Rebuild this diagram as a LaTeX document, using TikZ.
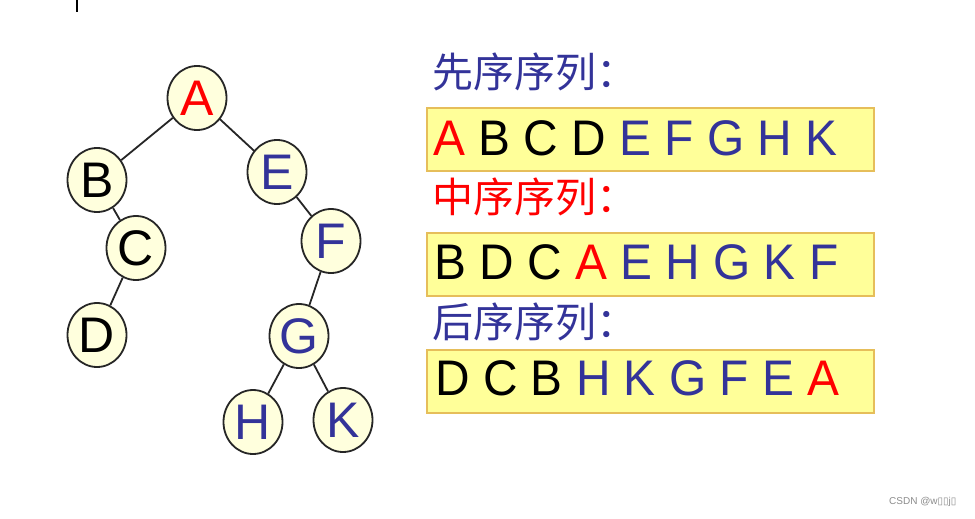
\documentclass[tikz,border=0pt]{standalone}
\usepackage{fontspec}
\setmainfont{Liberation Sans}
\newfontfamily\seqfont[FakeStretch=0.957]{Liberation Sans}
\newfontfamily\cjk{Noto Sans CJK SC}
\newfontfamily\dejavu{DejaVu Sans}
\usetikzlibrary{shapes.geometric}
\definecolor{tblue}{HTML}{333399}
\definecolor{tred}{HTML}{FF0000}
\definecolor{nodefill}{HTML}{FFFFDD}
\definecolor{boxfill}{HTML}{FFFF99}
\definecolor{boxline}{HTML}{E6BE5A}
\tikzset{
  tnode/.style={ellipse, draw=black!85, line width=1.8pt, fill=nodefill, minimum width=59pt, minimum height=64pt, inner sep=0pt, font=\fontsize{50}{50}\selectfont},
  edge/.style={draw=black!85, line width=1.8pt},
  seqbox/.style={draw=boxline, line width=1.2pt, fill=boxfill},
  seqtext/.style={anchor=base west, inner sep=0pt, font=\seqfont\fontsize{50}{50}\selectfont},
  title/.style={anchor=base west, inner sep=0pt, font=\cjk\fontsize{41}{41}\selectfont}
}
\begin{document}
\begin{tikzpicture}[x=1pt,y=-1pt]
\useasboundingbox (0,0) rectangle (975,519);
\fill[white] (0,0) rectangle (975,519);
\draw[line width=2pt] (77,0) coordinate (t1) -- (77,12) coordinate (t2);
% tree
\node[tnode, text=tred] (A) at (197,98) {A};
\node[tnode] (B) at (97,180) {B};
\node[tnode, text=tblue] (E) at (277,172) {E};
\node[tnode] (C) at (136,248) {C};
\node[tnode, text=tblue] (F) at (331,241) {F};
\node[tnode] (D) at (97,335) {D};
\node[tnode, text=tblue] (G) at (299,336) {G};
\node[tnode, text=tblue] (H) at (253,422) {H};
\node[tnode, text=tblue] (K) at (343,420) {K};
\draw[edge] (A) -- (B);
\draw[edge] (A) -- (E);
\draw[edge] (B) -- (C);
\draw[edge] (C) -- (D);
\draw[edge] (E) -- (F);
\draw[edge] (F) -- (G);
\draw[edge] (G) -- (H);
\draw[edge] (G) -- (K);
% titles and boxes
\node[title, text=tblue] (t1l) at (432,88) {先序序列：};
\draw[seqbox] (427,108) rectangle (874,171);
\node[seqtext, text=tblue] (s1) at (433,155) {\textcolor{tred}{A} \textcolor{black}{B C D} E F G H K};
\node[title, text=tred] (t2l) at (432,212) {中序序列：};
\draw[seqbox] (427,233) rectangle (874,296);
\node[seqtext, text=tblue] (s2) at (434,279) {\textcolor{black}{B D C} \textcolor{tred}{A} E H G K F};
\node[title, text=tblue] (t3l) at (432,337) {后序序列：};
\draw[seqbox] (427,350) rectangle (874,413);
\node[seqtext, text=tblue] (s3) at (435,395) {\textcolor{black}{D C B} H K G F E \textcolor{tred}{A}};
\node[anchor=base west, inner sep=0pt, text=black!45, font=\fontsize{10}{10}\selectfont] (wm) at (889,504) {CSDN @w{\dejavu ▯▯}j{\dejavu ▯}};
\end{tikzpicture}
\end{document}
